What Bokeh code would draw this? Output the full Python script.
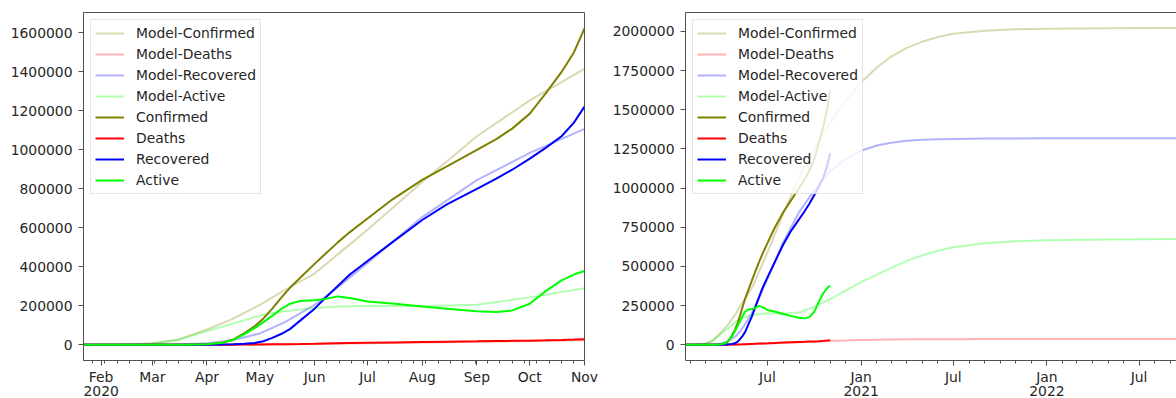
from datetime import datetime

import pandas as pd
from bokeh.embed import file_html
from bokeh.layouts import row
from bokeh.models import (BasicTickFormatter, ColumnDataSource, FixedTicker,
                          LinearAxis, Range1d)
from bokeh.plotting import figure
from bokeh.resources import INLINE

FONT = "DejaVu Sans"
FS = "13.9px"
INK = "#262626"
FRAME = "#505050"

# ---- reported counts (cumulative), 2020 ----
obs_dates = [
    "2020-01-22", "2020-03-01", "2020-03-20", "2020-04-01", "2020-04-10",
    "2020-04-16", "2020-04-22", "2020-04-28", "2020-05-03", "2020-05-08",
    "2020-05-13", "2020-05-18", "2020-05-24", "2020-06-01", "2020-06-07",
    "2020-06-14", "2020-06-21", "2020-07-01", "2020-07-15", "2020-08-01",
    "2020-08-15", "2020-09-01", "2020-09-12", "2020-09-21", "2020-10-01",
    "2020-10-10", "2020-10-19", "2020-10-26", "2020-11-01",
]
confirmed = [
    0, 0, 250, 2800, 11500, 27000, 58000, 94000, 135000, 185000,
    240000, 292000, 345000, 415000, 466000, 524000, 578000, 648000, 745000, 846000,
    915000, 1000000, 1055000, 1109000, 1186000, 1290000, 1400000, 1500000, 1624000,
]
deaths = [
    0, 0, 0, 20, 100, 230, 500, 870, 1300, 1800,
    2300, 2900, 3600, 4700, 5800, 7000, 8200, 9500, 11500, 14000,
    15700, 17500, 18700, 19800, 21000, 22600, 24500, 26500, 28500,
]
recovered = [
    0, 0, 0, 200, 800, 2000, 4500, 8500, 18000, 35000,
    55000, 80000, 125000, 185000, 240000, 300000, 360000, 430000, 525000, 640000,
    720000, 800000, 852000, 898000, 955000, 1010000, 1070000, 1140000, 1222000,
]
active = [
    0, 0, 250, 2600, 10600, 24800, 53000, 85000, 116000, 148000,
    183000, 210000, 225000, 228000, 235000, 248000, 240000, 222000, 212000, 196000,
    184000, 172000, 168000, 176000, 210000, 275000, 330000, 360000, 378000,
]

# ---- fitted model, 2020-2022 ----
model_dates = [
    "2020-01-22", "2020-02-10", "2020-02-20", "2020-03-01", "2020-03-15",
    "2020-04-01", "2020-04-15", "2020-05-01", "2020-05-15", "2020-06-01",
    "2020-06-15", "2020-07-01", "2020-08-01", "2020-09-01", "2020-10-01",
    "2020-11-01", "2020-12-01", "2021-01-01", "2021-02-01", "2021-03-01",
    "2021-04-01", "2021-05-01", "2021-06-01", "2021-07-01", "2021-09-01",
    "2021-11-01", "2022-01-01", "2022-05-01", "2022-10-01",
]
model_confirmed = [
    0, 500, 2500, 7000, 25000, 78000, 130000, 205000, 280000, 365000,
    470000, 590000, 835000, 1070000, 1254000, 1416000, 1555000, 1675000, 1770000, 1840000,
    1895000, 1935000, 1965000, 1985000, 2005000, 2014000, 2018000, 2021000, 2022000,
]
model_deaths = [
    0, 0, 0, 0, 100, 400, 900, 1800, 2800, 4300,
    5800, 7600, 11500, 15500, 19500, 23500, 27000, 29800, 31800, 33000,
    33900, 34500, 34900, 35200, 35500, 35700, 35800, 35900, 35900,
]
model_recovered = [
    0, 0, 0, 300, 1500, 7000, 22000, 58000, 115000, 205000,
    300000, 420000, 655000, 845000, 985000, 1108000, 1185000, 1238000, 1272000, 1290000,
    1302000, 1308000, 1312000, 1314000, 1316000, 1317000, 1318000, 1318000, 1318000,
]
model_active = [
    0, 500, 2400, 6500, 23000, 70000, 106000, 150000, 172000, 188000,
    196000, 200000, 198000, 205000, 243000, 290000, 345000, 400000, 447000, 490000,
    535000, 570000, 600000, 622000, 648000, 660000, 667000, 672000, 675000,
]

# ---- axis ticks ----
left_y_ticks = [0, 200000, 400000, 600000, 800000, 1000000, 1200000, 1400000, 1600000]
right_y_ticks = [0, 250000, 500000, 750000, 1000000, 1250000, 1500000, 1750000, 2000000]
left_x_labels = {
    "2020-02-01": "Feb\n2020", "2020-03-01": "Mar", "2020-04-01": "Apr",
    "2020-05-01": "May", "2020-06-01": "Jun", "2020-07-01": "Jul",
    "2020-08-01": "Aug", "2020-09-01": "Sep", "2020-10-01": "Oct",
    "2020-11-01": "Nov",
}
right_x_labels = {
    "2020-07-01": "Jul", "2021-01-01": "Jan\n2021", "2021-07-01": "Jul",
    "2022-01-01": "Jan\n2022", "2022-07-01": "Jul",
}


def ms(day):
    return float(pd.Timestamp(day).value // 10**6)


obs_src = ColumnDataSource(dict(
    date=pd.to_datetime(obs_dates),
    confirmed=confirmed, deaths=deaths, recovered=recovered, active=active,
))
model_src = ColumnDataSource(dict(
    date=pd.to_datetime(model_dates),
    confirmed=model_confirmed, deaths=model_deaths,
    recovered=model_recovered, active=model_active,
))

SERIES = [
    ("confirmed", "olive"),
    ("deaths", "red"),
    ("recovered", "blue"),
    ("active", "lime"),
]


def panel(x_end, y_range, y_ticks, x_labels, x_minor, frame_width,
          border_left, border_right, closed_frame):
    p = figure(
        x_axis_type="datetime",
        x_range=Range1d(datetime(2020, 1, 22), x_end),
        y_range=Range1d(*y_range),
        frame_width=frame_width, frame_height=348,
        min_border_left=border_left, min_border_right=border_right,
        min_border_top=12, min_border_bottom=38,
        output_backend="svg", toolbar_location=None,
    )
    p.grid.visible = False
    p.background_fill_color = "white"
    p.border_fill_color = "white"
    p.outline_line_color = FRAME if closed_frame else None
    p.outline_line_width = 1

    for key, color in SERIES:
        p.line("date", key, source=model_src, line_color=color, line_alpha=0.3,
               line_width=2, legend_label="Model-" + key.capitalize())
    for key, color in SERIES:
        p.line("date", key, source=obs_src, line_color=color, line_width=2,
               legend_label=key.capitalize())

    xa = p.xaxis[0]
    major = [ms(d) for d in x_labels]
    xa.ticker = FixedTicker(ticks=major, minor_ticks=[ms(d) for d in x_minor])
    xa.major_label_overrides = {ms(d): t for d, t in x_labels.items()}
    ya = p.yaxis[0]
    ya.ticker = FixedTicker(ticks=y_ticks)
    ya.formatter = BasicTickFormatter(use_scientific=False)

    for ax in (xa, ya):
        ax.axis_line_color = FRAME
        ax.major_tick_line_color = FRAME
        ax.minor_tick_line_color = FRAME if ax is xa else None
        ax.major_tick_in = 0
        ax.major_tick_out = 5
        ax.minor_tick_in = 0
        ax.minor_tick_out = 3
        ax.major_label_text_font = FONT
        ax.major_label_text_font_size = FS
        ax.major_label_text_color = INK
    xa.major_label_standoff = 3
    xa.major_label_text_line_height = 0.9
    ya.major_label_standoff = 6

    if not closed_frame:
        top = LinearAxis(ticker=FixedTicker(ticks=[]), axis_line_color=FRAME,
                         major_tick_out=0, minor_tick_out=0,
                         major_label_text_font_size="0px")
        p.add_layout(top, "above")

    lg = p.legend[0]
    lg.location = "top_left"
    lg.margin = 7
    lg.padding = 4
    lg.spacing = 3
    lg.label_height = 18
    lg.glyph_height = 18
    lg.glyph_width = 29
    lg.label_standoff = 12
    lg.label_text_font = FONT
    lg.label_text_font_size = FS
    lg.label_text_color = INK
    lg.border_line_color = "#cccccc"
    lg.border_line_width = 1
    lg.background_fill_alpha = 0.8
    return p


left_minor = [d.strftime("%Y-%m-%d") for d in pd.date_range("2020-01-27", "2020-10-26", freq="W-MON")]
right_minor = [d.strftime("%Y-%m-%d") for d in pd.date_range("2020-02-01", "2022-09-01", freq="MS")
               if d.month not in (1, 7)]

left = panel(datetime(2020, 11, 1), (-81000, 1705000), left_y_ticks, left_x_labels,
             left_minor, 501, 83, 16, True)
right = panel(pd.Timestamp("2020-01-22") + pd.Timedelta(days=964.5), (-101000, 2121000),
              right_y_ticks, right_x_labels, right_minor, 491, 85, 0, False)

layout = row(left, right)
open("out.html", "w").write(file_html(layout, INLINE))
